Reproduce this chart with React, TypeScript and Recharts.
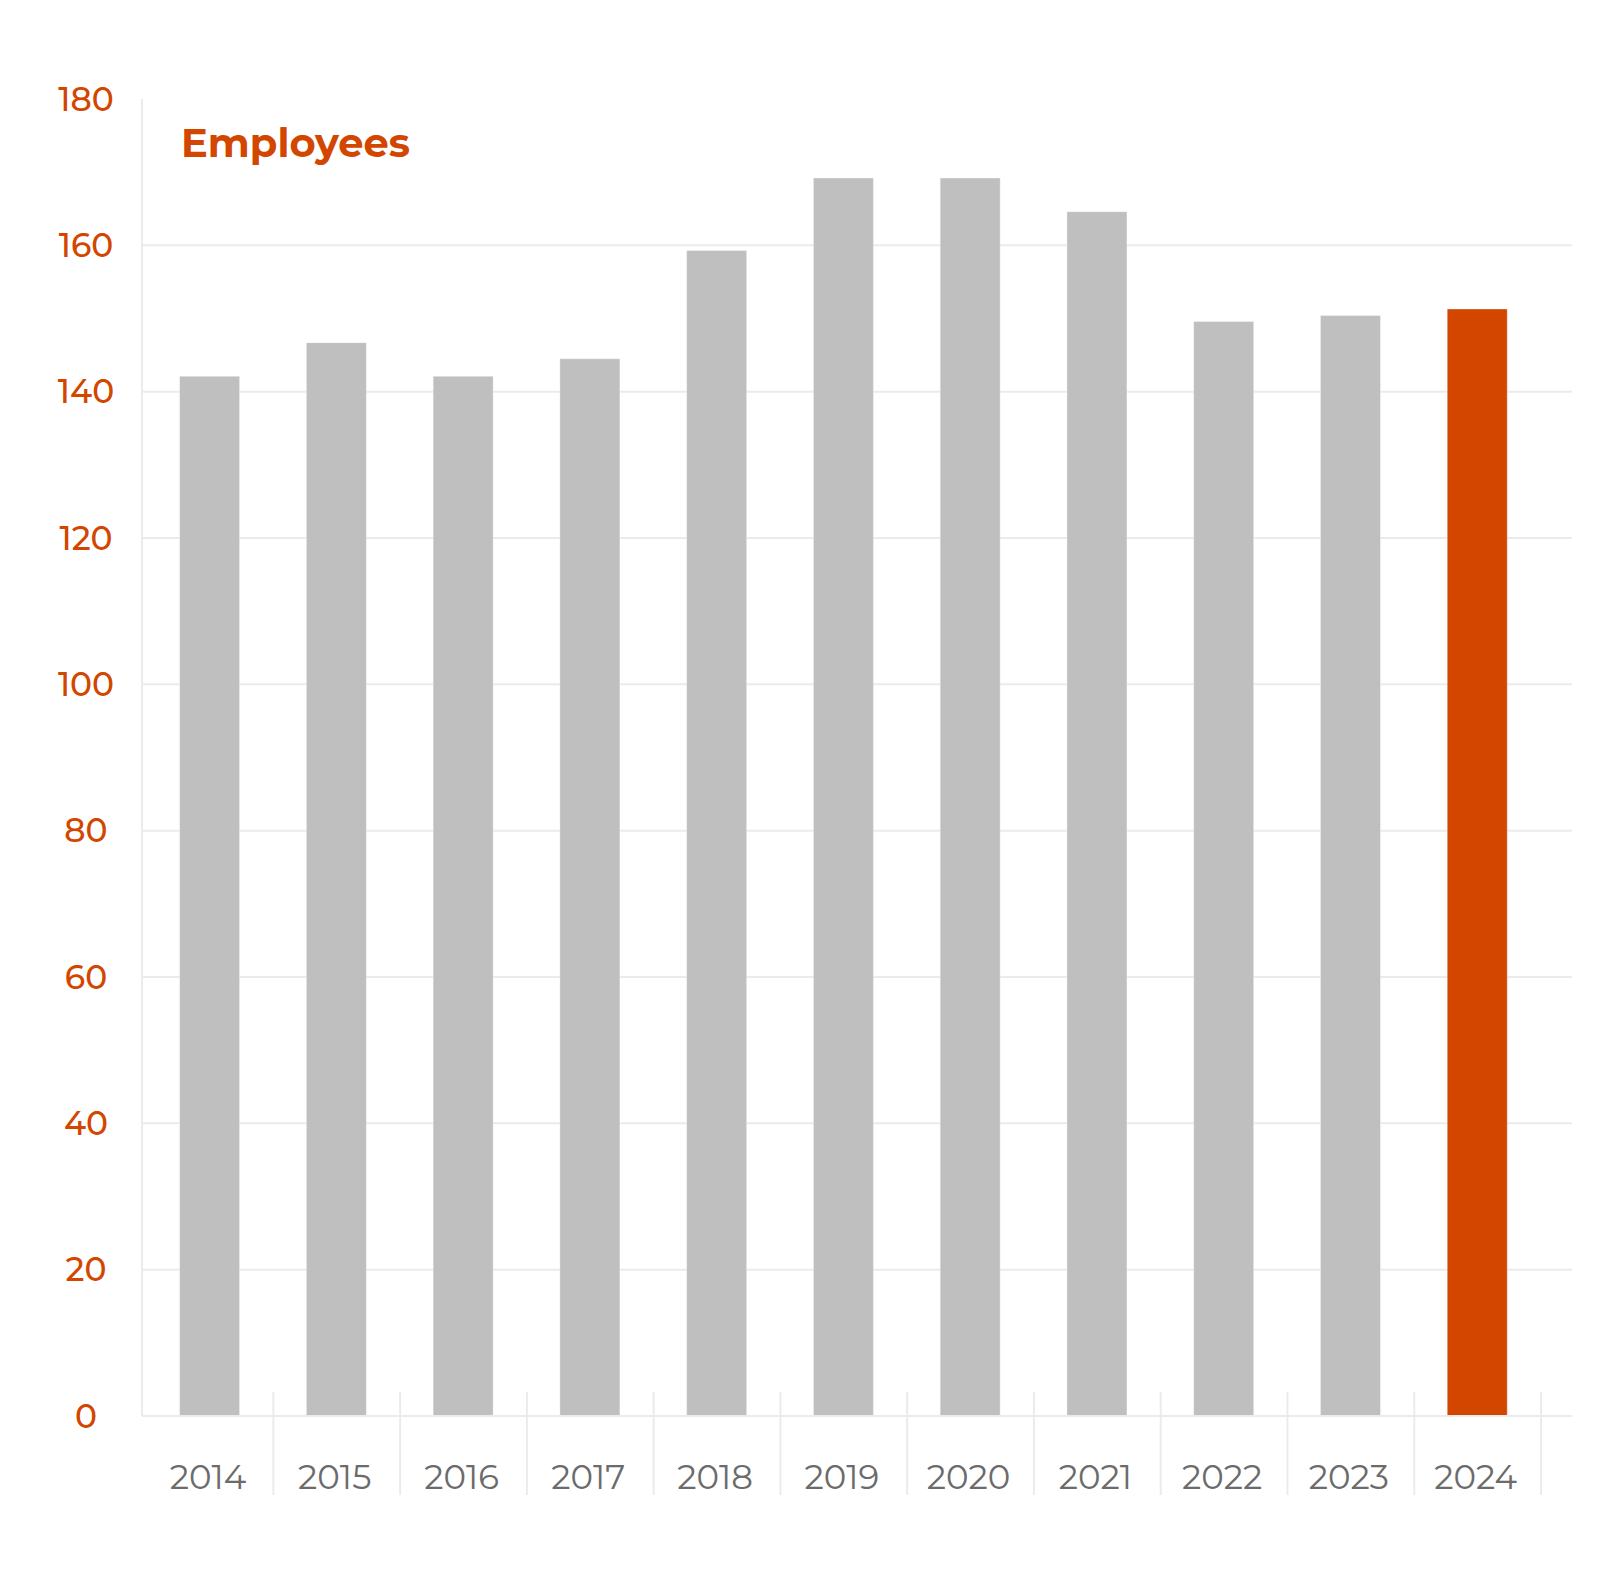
import { BarChart, Bar, XAxis, YAxis, CartesianGrid, Cell } from 'recharts';

const years = ['2014', '2015', '2016', '2017', '2018', '2019', '2020', '2021', '2022', '2023', '2024'];
const employees = [142.1, 146.7, 142.1, 144.5, 159.3, 169.2, 169.2, 164.6, 149.6, 150.4, 151.3];
const yTicks = [0, 20, 40, 60, 80, 100, 120, 140, 160, 180];
const gridValues = [20, 40, 60, 80, 100, 120, 140, 160];
const highlightYear = '2024';

const ORANGE = '#d24600';
const GREY_BAR = '#bfbfbf';
const LINE = '#ebebeb';
const FONT = 'Montserrat, Lato, "Open Sans", sans-serif';

const yMax = yTicks[yTicks.length - 1];
const data = years.map((year, i) => ({ year, value: employees[i] }));

function YTick(props: any) {
  const { y, payload } = props;
  return (
    <text x={86} y={y} dy={11.5} textAnchor="middle" fill={ORANGE} fontSize={33} fontWeight={500} fontFamily={FONT}>
      {payload.value}
    </text>
  );
}

function XTick(props: any) {
  const { x, y, payload } = props;
  const half = payload.offset ?? 63.4;
  return (
    <g>
      <line x1={x + half} x2={x + half} y1={y - 24} y2={y + 79} stroke={LINE} strokeWidth={2} />
      <text x={x - 2} y={y + 73} textAnchor="middle" fill="#6b6b6b" fontSize={34} fontFamily={FONT}>
        {payload.value}
      </text>
    </g>
  );
}

// grid lines only between 0 and the top tick (no line at 180)
const gridRows = ({ offset }: any) =>
  gridValues.map((v) => offset.top + offset.height * (1 - v / yMax));

export default function App() {
  return (
    <div style={{ position: 'absolute', left: 0, top: 0, width: 1600, height: 1572, background: '#fff' }}>
      <BarChart width={1600} height={1572} data={data} margin={{ top: 99, right: 28, left: 0, bottom: 36 }}>
        <CartesianGrid vertical={false} stroke={LINE} strokeWidth={2} horizontalCoordinatesGenerator={gridRows} />
        <XAxis
          dataKey="year"
          interval={0}
          height={120}
          padding={{ left: 4.6, right: 31 }}
          axisLine={{ stroke: LINE, strokeWidth: 2 }}
          tickLine={false}
          tickSize={0}
          tickMargin={0}
          tick={<XTick />}
        />
        <YAxis
          domain={[0, yMax]}
          ticks={yTicks}
          width={142}
          axisLine={{ stroke: LINE, strokeWidth: 2 }}
          tickLine={false}
          tick={<YTick />}
        />
        <Bar dataKey="value" barSize={60} isAnimationActive={false} stroke="#ffffff" strokeOpacity={0.35} strokeWidth={1}>
          {data.map((d) => (
            <Cell key={d.year} fill={d.year === highlightYear ? ORANGE : GREY_BAR} />
          ))}
        </Bar>
        <text x={181} y={157} fill={ORANGE} fontSize={40} fontWeight={700} fontFamily={FONT}>
          Employees
        </text>
      </BarChart>
    </div>
  );
}
